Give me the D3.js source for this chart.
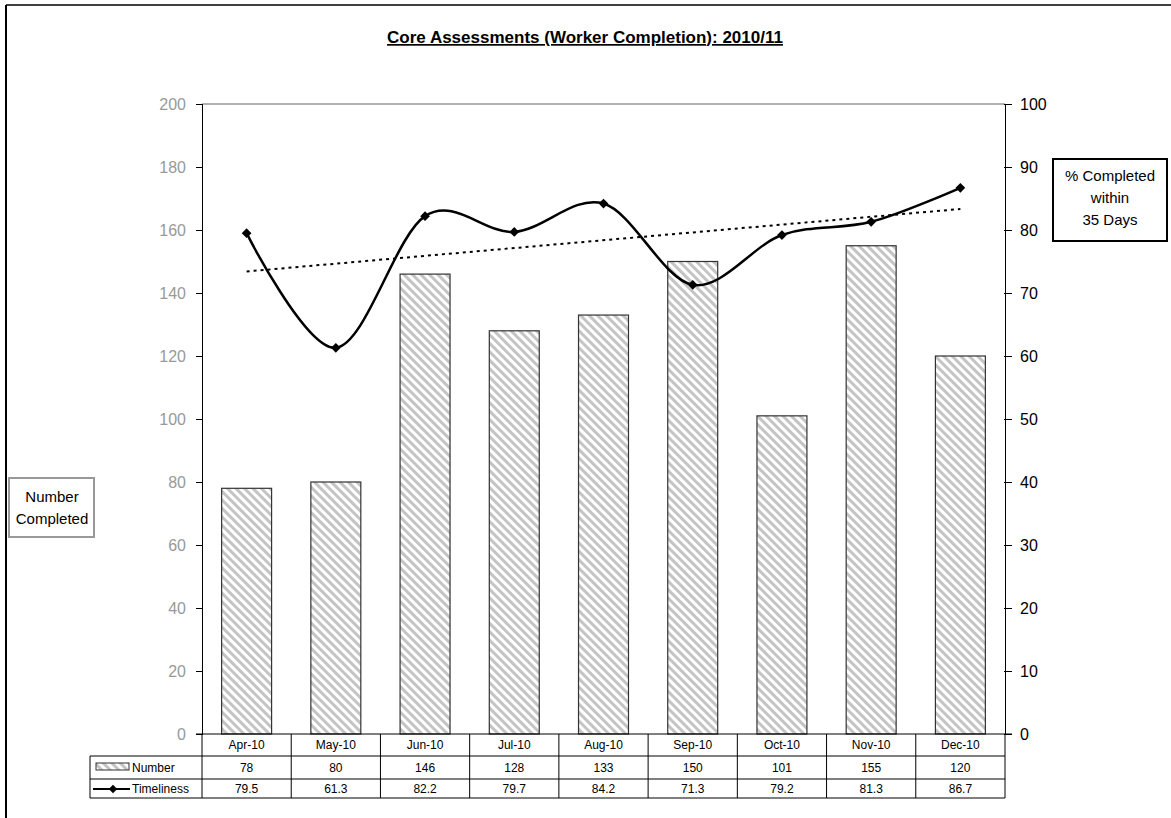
<!DOCTYPE html>
<html>
<head>
<meta charset="utf-8">
<script src="https://cdn.jsdelivr.net/npm/d3@7"></script>
<style>
  body { margin: 0; background: #fff; }
  svg { display: block; font-family: Arial, "Liberation Sans", sans-serif; }
</style>
</head>
<body>
<div id="chart-container"></div>
<script>
// Dữ liệu
const months = ["Apr-10", "May-10", "Jun-10", "Jul-10", "Aug-10", "Sep-10", "Oct-10", "Nov-10", "Dec-10"];
const numberCompleted = [78, 80, 146, 128, 133, 150, 101, 155, 120];
const timeliness = [79.5, 61.3, 82.2, 79.7, 84.2, 71.3, 79.2, 81.3, 86.7];
const leftTicks = [0, 20, 40, 60, 80, 100, 120, 140, 160, 180, 200];
const rightTicks = [0, 10, 20, 30, 40, 50, 60, 70, 80, 90, 100];

const width = 1171, height = 818;
const plot = { left: 202, right: 1005, top: 104, bottom: 734 };

const svg = d3.select("#chart-container").append("svg")
    .attr("width", width)
    .attr("height", height);

// Mẫu sọc chéo cho cột
const defs = svg.append("defs");
const pat = defs.append("pattern")
    .attr("id", "hatch")
    .attr("patternUnits", "userSpaceOnUse")
    .attr("width", 6)
    .attr("height", 6)
    .attr("patternTransform", "rotate(-45)");
pat.append("rect").attr("width", 6).attr("height", 6).attr("fill", "#fff");
pat.append("rect").attr("width", 3).attr("height", 6).attr("fill", "#c4c4c4");

// Khung ngoài (chỉ cạnh trên và trái)
svg.append("line").attr("x1", 6).attr("x2", width).attr("y1", 5).attr("y2", 5)
    .attr("stroke", "#404040").attr("stroke-width", 2);
svg.append("line").attr("x1", 6).attr("x2", 6).attr("y1", 5).attr("y2", height)
    .attr("stroke", "#000").attr("stroke-width", 2);

// Thang đo
const x = d3.scaleBand().domain(months).range([plot.left, plot.right]).padding(0);
const yL = d3.scaleLinear().domain([0, 200]).range([plot.bottom, plot.top]);
const yR = d3.scaleLinear().domain([0, 100]).range([plot.bottom, plot.top]);

// Đường viền trên vùng vẽ
svg.append("line").attr("x1", plot.left).attr("x2", plot.right)
    .attr("y1", plot.top).attr("y2", plot.top)
    .attr("stroke", "#999").attr("stroke-width", 1.5);

// Trục trái
const axL = svg.append("g")
    .attr("transform", `translate(${plot.left},0)`)
    .call(d3.axisLeft(yL).tickValues(leftTicks).tickSize(6).tickPadding(10).tickSizeOuter(0));
axL.select(".domain").attr("stroke", "#000");
axL.selectAll(".tick line").attr("stroke", "#000").attr("x2", 1).attr("x1", -6);
axL.selectAll("text").attr("fill", "#999").style("font-size", "16px");

// Trục phải
const axR = svg.append("g")
    .attr("transform", `translate(${plot.right},0)`)
    .call(d3.axisRight(yR).tickValues(rightTicks).tickSize(7).tickPadding(8).tickSizeOuter(0));
axR.select(".domain").attr("stroke", "#000");
axR.selectAll(".tick line").attr("stroke", "#000").attr("x1", -1);
axR.selectAll("text").attr("fill", "#000").style("font-size", "16px");

// Cột
const barW = x.bandwidth() * 0.56;
svg.selectAll(".bar")
    .data(months)
    .enter()
    .append("rect")
    .attr("class", "bar")
    .attr("x", (d) => x(d) + (x.bandwidth() - barW) / 2)
    .attr("y", (d, i) => yL(numberCompleted[i]))
    .attr("width", barW)
    .attr("height", (d, i) => yL(0) - yL(numberCompleted[i]))
    .attr("fill", "url(#hatch)")
    .attr("stroke", "#333")
    .attr("stroke-width", 1.2);

// Trục đáy
svg.append("line").attr("x1", plot.left - 6).attr("x2", plot.right + 7)
    .attr("y1", plot.bottom).attr("y2", plot.bottom)
    .attr("stroke", "#000");

// Đường xu hướng tuyến tính
const n = timeliness.length;
const xs = d3.range(1, n + 1);
const mx = d3.mean(xs), my = d3.mean(timeliness);
const slope = d3.sum(xs, (v, i) => (v - mx) * (timeliness[i] - my)) / d3.sum(xs, (v) => (v - mx) ** 2);
const icpt = my - slope * mx;
const cx = (d) => x(d) + x.bandwidth() / 2;
svg.append("line")
    .attr("x1", cx(months[0])).attr("x2", cx(months[n - 1]))
    .attr("y1", yR(icpt + slope * 1)).attr("y2", yR(icpt + slope * n))
    .attr("stroke", "#000").attr("stroke-width", 2)
    .attr("stroke-dasharray", "3,4");

// Đường cong Timeliness
const line = d3.line()
    .x((d, i) => cx(months[i]))
    .y((d) => yR(d))
    .curve(d3.curveCatmullRom.alpha(0));
svg.append("path")
    .datum(timeliness)
    .attr("d", line)
    .attr("fill", "none")
    .attr("stroke", "#000")
    .attr("stroke-width", 2.5);

const diamond = d3.symbol().type(d3.symbolDiamond2).size(60);
svg.selectAll(".mk")
    .data(timeliness)
    .enter()
    .append("path")
    .attr("class", "mk")
    .attr("d", diamond)
    .attr("transform", (d, i) => `translate(${cx(months[i])},${yR(d)})`)
    .attr("fill", "#000");

// Bảng dữ liệu
const rows = { catMid: 745, r1: 756, r2: 779, r3: 798 };
const tbl = svg.append("g").attr("stroke", "#000").attr("stroke-width", 1);
[rows.r1, rows.r2, rows.r3].forEach((yy) => {
    tbl.append("line").attr("x1", 90).attr("x2", plot.right).attr("y1", yy).attr("y2", yy);
});
tbl.append("line").attr("x1", 90).attr("x2", 90).attr("y1", rows.r1).attr("y2", rows.r3);
months.concat(["end"]).forEach((m, i) => {
    const xx = plot.left + i * x.bandwidth();
    tbl.append("line").attr("x1", xx).attr("x2", xx).attr("y1", plot.bottom).attr("y2", rows.r3);
});

const tt = svg.append("g").style("font-size", "12px").attr("text-anchor", "middle").attr("fill", "#000");
months.forEach((m, i) => {
    tt.append("text").attr("x", cx(m)).attr("y", rows.catMid).attr("dy", "0.35em").text(m);
    tt.append("text").attr("x", cx(m)).attr("y", (rows.r1 + rows.r2) / 2).attr("dy", "0.35em").text(numberCompleted[i]);
    tt.append("text").attr("x", cx(m)).attr("y", (rows.r2 + rows.r3) / 2).attr("dy", "0.35em").text(timeliness[i]);
});

// Chú giải trong bảng
svg.append("rect").attr("x", 96).attr("y", 763).attr("width", 33).attr("height", 7)
    .attr("fill", "url(#hatch)").attr("stroke", "#333").attr("stroke-width", 1);
svg.append("text").attr("x", 132).attr("y", 767.5).attr("dy", "0.35em")
    .style("font-size", "12px").text("Number");
svg.append("line").attr("x1", 93).attr("x2", 130).attr("y1", 789).attr("y2", 789)
    .attr("stroke", "#000").attr("stroke-width", 2);
svg.append("path").attr("d", d3.symbol().type(d3.symbolDiamond2).size(45))
    .attr("transform", "translate(113,789)").attr("fill", "#000");
svg.append("text").attr("x", 132).attr("y", 788.5).attr("dy", "0.35em")
    .style("font-size", "12px").text("Timeliness");

// Tiêu đề
svg.append("text")
    .attr("x", 585).attr("y", 43)
    .attr("text-anchor", "middle")
    .style("font-size", "17px").style("font-weight", "bold")
    .style("text-decoration", "underline")
    .text("Core Assessments (Worker Completion): 2010/11");

// Nhãn trục trái (hộp)
svg.append("rect").attr("x", 9).attr("y", 478).attr("width", 85).attr("height", 59)
    .attr("fill", "#fff").attr("stroke", "#999").attr("stroke-width", 2);
svg.append("text").attr("x", 52).attr("y", 502).attr("text-anchor", "middle")
    .style("font-size", "15px").text("Number");
svg.append("text").attr("x", 52).attr("y", 524).attr("text-anchor", "middle")
    .style("font-size", "15px").text("Completed");

// Nhãn trục phải (hộp)
svg.append("rect").attr("x", 1053).attr("y", 159).attr("width", 114).attr("height", 82)
    .attr("fill", "#fff").attr("stroke", "#000").attr("stroke-width", 2);
["% Completed", "within", "35 Days"].forEach((t, i) => {
    svg.append("text").attr("x", 1110).attr("y", 181 + i * 22).attr("text-anchor", "middle")
        .style("font-size", "15px").text(t);
});
</script>
</body>
</html>
